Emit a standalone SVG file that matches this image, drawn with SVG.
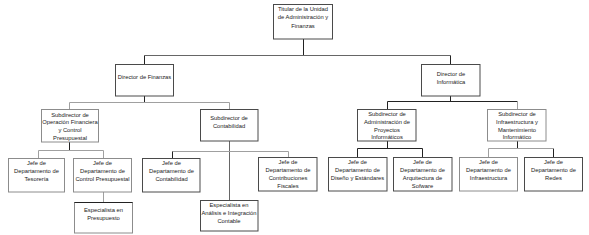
<svg xmlns="http://www.w3.org/2000/svg" width="589" height="235" viewBox="0 0 589 235">
<style>
.b{fill:#fff;stroke:#4a4a4a;stroke-width:1}
.g{fill:#fff;stroke:#8c8c8c;stroke-width:1}
text{font-family:"Liberation Sans",Arial,sans-serif;font-size:5.8px;fill:#1a1a1a;text-anchor:middle}
.d{fill:none;stroke:#222;stroke-width:1}
.l{fill:none;stroke:#a0a0a0;stroke-width:1}
.m{fill:none;stroke:#666;stroke-width:1}
</style>
<rect width="589" height="235" fill="#fff"/>
<g id="connectors">
<path class="d" d="M303.5 39V55.5"/>
<path class="m" d="M144.5 55.5H450.5"/>
<path class="d" d="M144.5 55.5V64M450.5 55.5V64"/>
<path class="d" d="M144.5 96V102.5"/>
<path class="l" d="M69.5 102.5H229.5M69.5 102.5V109M229.5 102.5V109"/>
<path class="d" d="M69.5 142V150.5"/>
<path class="l" d="M38.5 150.5H103.5M38.5 150.5V158M103.5 150.5V158M103.5 192V202"/>
<path class="m" d="M229.5 141V200"/>
<path class="l" d="M172.5 151.5H288.5M288.5 151.5V157"/>
<path class="d" d="M172.5 151.5V158"/>
<path class="d" d="M450.5 96V101.5M387.5 101.5H517.5M387.5 101.5V109"/>
<path class="l" d="M517.5 101.5V109"/>
<path class="d" d="M387.5 141V148.5M357.5 148.5H422.5M357.5 148.5V157M422.5 148.5V157"/>
<path class="d" d="M517.5 141V148.5M553.5 148.5V157"/>
<path class="l" d="M488.5 148.5H553.5M488.5 148.5V157"/>
</g>
<g id="titular"><rect class="b" x="273.5" y="4.5" width="59" height="34.5"/>
<text x="303" y="10.5">Titular de la Unidad</text><text x="303" y="19">de Administración y</text><text x="303" y="27.5">Finanzas</text></g>
<g id="dir-finanzas"><rect class="b" x="115.5" y="64.5" width="58" height="31.5"/>
<text x="144.5" y="79">Director de Finanzas</text></g>
<g id="dir-informatica"><rect class="b" x="421.5" y="64.5" width="58.5" height="31.5"/>
<text x="451" y="75.5">Director de</text><text x="451" y="83.5">Informática</text></g>
<g id="sub-operacion"><rect class="g" x="41.5" y="109.5" width="57" height="32.5"/>
<text x="70" y="116.5">Subdirector de</text><text x="70" y="124.2">Operación Financiera</text><text x="70" y="131.9">y Control</text><text x="70" y="139.6">Presupuestal</text></g>
<g id="sub-contabilidad"><rect class="b" x="200.5" y="109.5" width="57.5" height="31.5"/>
<text x="229" y="120">Subdirector de</text><text x="229" y="128">Contabilidad</text></g>
<g id="sub-proyectos"><rect class="b" x="357.5" y="109.5" width="58.5" height="31.5"/>
<text x="387" y="116.3">Subdirector de</text><text x="387" y="124">Administración de</text><text x="387" y="131.7">Proyectos</text><text x="387" y="139.2">Informáticos</text></g>
<g id="sub-infraestructura"><rect class="g" x="487.5" y="109.5" width="58.5" height="31.5"/>
<text x="517" y="116.3">Subdirector de</text><text x="517" y="124">Infraestructura y</text><text x="517" y="131.7">Mantenimiento</text><text x="517" y="139.2">Informático</text></g>
<g id="jefe-tesoreria"><rect class="g" x="8.5" y="158.5" width="56" height="33.5"/>
<text x="36.5" y="165">Jefe de</text><text x="36.5" y="173">Departamento de</text><text x="36.5" y="181">Tesorería</text></g>
<g id="jefe-control"><rect class="g" x="73.5" y="158.5" width="58" height="33.5"/>
<text x="102.5" y="165">Jefe de</text><text x="102.5" y="173">Departamento de</text><text x="102.5" y="181">Control Presupuestal</text></g>
<g id="esp-presupuesto"><rect class="g" x="74.5" y="202.5" width="58" height="30.5"/>
<path class="d" d="M74.5 202.5H132.5"/>
<text x="103.5" y="212">Especialista en</text><text x="103.5" y="220">Presupuesto</text></g>
<g id="jefe-contabilidad"><rect class="b" x="142.5" y="158.5" width="57.5" height="33.5"/>
<text x="171.5" y="164.5">Jefe de</text><text x="171.5" y="172.5">Departamento de</text><text x="171.5" y="180.5">Contabilidad</text></g>
<g id="esp-analisis"><rect class="b" x="200.5" y="200.5" width="57.5" height="30.5"/>
<text x="229" y="206.5">Especialista en</text><text x="229" y="214.5">Análisis e Integración</text><text x="229" y="222.5">Contable</text></g>
<g id="jefe-contribuciones"><rect class="b" x="258.5" y="157.5" width="58.5" height="33.5"/>
<text x="288" y="164">Jefe de</text><text x="288" y="172">Departamento de</text><text x="288" y="180">Contribuciones</text><text x="288" y="188">Fiscales</text></g>
<g id="jefe-diseno"><rect class="b" x="328.5" y="157.5" width="58.5" height="33.5"/>
<text x="357.5" y="164">Jefe de</text><text x="357.5" y="172">Departamento de</text><text x="357.5" y="180">Diseño y Estándares</text></g>
<g id="jefe-arquitectura"><rect class="b" x="393.5" y="157.5" width="58.5" height="33.5"/>
<text x="422.5" y="164">Jefe de</text><text x="422.5" y="172">Departamento de</text><text x="422.5" y="180">Arquitectura de</text><text x="422.5" y="188">Sofware</text></g>
<g id="jefe-infraestructura"><rect class="g" x="459.5" y="157.5" width="58" height="33.5"/>
<text x="488.5" y="164">Jefe de</text><text x="488.5" y="172">Departamento de</text><text x="488.5" y="180">Infraestructura</text></g>
<g id="jefe-redes"><rect class="b" x="524.5" y="157.5" width="58" height="33.5"/>
<text x="553.5" y="164">Jefe de</text><text x="553.5" y="172">Departamento de</text><text x="553.5" y="180">Redes</text></g>
</svg>
